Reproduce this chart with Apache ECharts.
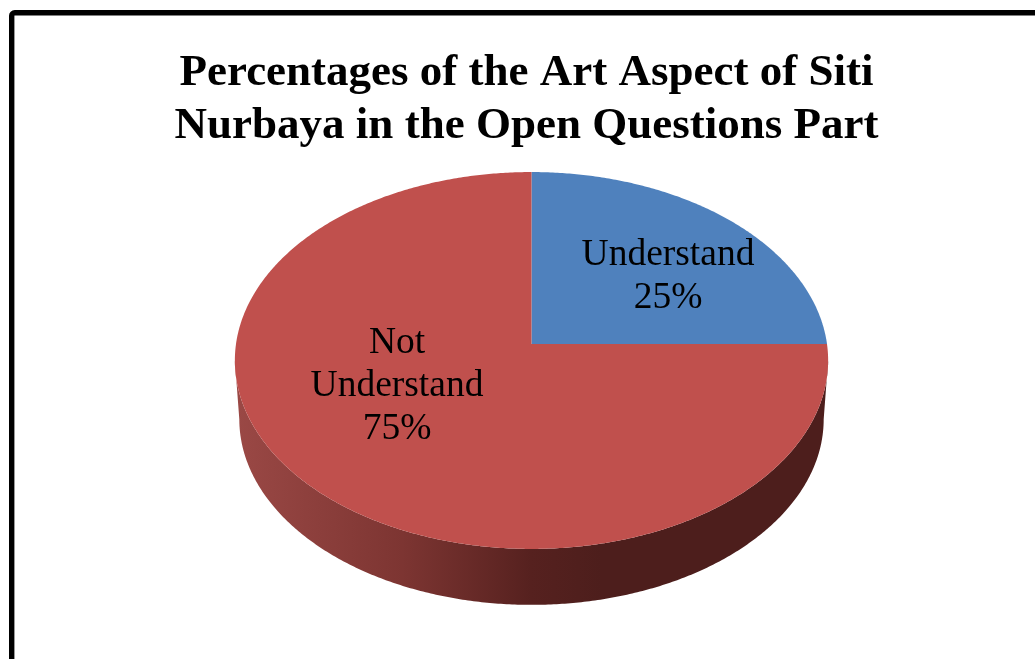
<!DOCTYPE html>
<html>
<head>
<meta charset="utf-8">
<style>html,body{margin:0;padding:0;background:#fff;overflow:hidden}#chart{width:1035px;height:659px}</style>
<script src="https://cdn.jsdelivr.net/npm/echarts@6/dist/echarts.min.js"></script>
</head>
<body>
<div id="chart"></div>
<script>
// Chart content
const titleLines = ['Percentages of the Art Aspect of Siti', 'Nurbaya in the Open Questions Part'];
const categories = ['Understand', 'Not Understand'];
const labelLines = [['Understand', '25%'], ['Not', 'Understand', '75%']];
const percentages = [25, 75];
const sliceColors = ['#4f81bd', '#c0504d'];

// Pie seen from above: the disc is tilted, so its near half looks larger than its far half
const pie = {cx: 531.5, cy: 344, rx: 295.5, ry: 187, tilt: 0.0875, depth: 59, baseScale: 0.985};
const labelOffsets = [[136.5, -67], [-134.5, 42]];
const total = percentages.reduce((a, b) => a + b, 0);

// Angle is measured clockwise from 12 o'clock, in degrees
function project(deg, scale, drop) {
  const t = deg * Math.PI / 180, u = Math.sin(t), v = Math.cos(t), w = 1 + pie.tilt * v;
  return [pie.cx + scale * pie.rx * u / w, pie.cy + drop - scale * pie.ry * v / w];
}
function arc(from, to, scale, drop) {
  const pts = [], steps = Math.max(2, Math.ceil(Math.abs(to - from) * 2));
  for (let i = 0; i <= steps; i++) pts.push(project(from + (to - from) * i / steps, scale, drop));
  return pts;
}

const wallFill = new echarts.graphic.LinearGradient(238, 0, 824, 0, [
  {offset: 0, color: '#9a4845'},
  {offset: 0.28, color: '#7d3532'},
  {offset: 0.5, color: '#56211f'},
  {offset: 0.62, color: '#4d1e1c'},
  {offset: 1, color: '#4d1e1c'}
], true);

function renderSlice(params, api) {
  const i = params.dataIndex;
  let before = 0;
  for (let k = 0; k < i; k++) before += percentages[k];
  const from = before / total * 360, to = (before + api.value(0)) / total * 360;
  const children = [];

  // Outer wall: only the front of the rim, between the two silhouette points
  const a = Math.max(from, 95), b = Math.min(to, 265);
  if (b > a) {
    const wall = arc(a, b, 1, 0).concat(arc(b, a, pie.baseScale, pie.depth));
    children.push({type: 'polygon', shape: {points: wall}, style: {fill: wallFill}});
  }
  children.push({
    type: 'polygon',
    shape: {points: [[pie.cx, pie.cy]].concat(arc(from, to, 1, 0))},
    style: {fill: sliceColors[i]}
  });
  children.push({
    type: 'text',
    z2: 10,
    style: {
      x: pie.cx + labelOffsets[i][0], y: pie.cy + labelOffsets[i][1],
      text: labelLines[i].join('\n'),
      font: '37.5px "Liberation Serif", "Times New Roman", serif',
      lineHeight: 43, fill: '#000', align: 'center', verticalAlign: 'middle'
    }
  });
  return {type: 'group', children};
}

const chart = echarts.init(document.getElementById('chart'), null, {renderer: 'canvas'});
chart.setOption({
  animation: false,
  backgroundColor: '#fff',
  title: {
    text: titleLines.join('\n'),
    left: 521.5, top: 42, textAlign: 'center',
    textStyle: {fontFamily: '"Liberation Serif", "Times New Roman", serif', fontWeight: 'bold', fontSize: 45, lineHeight: 53, color: '#000'}
  },
  graphic: [{
    type: 'rect', silent: true,
    shape: {x: 11.7, y: 12.7, width: 1300, height: 1000, r: 3},
    style: {fill: 'none', stroke: '#000', lineWidth: 5.4}
  }],
  series: [{
    type: 'custom',
    coordinateSystem: 'none',
    renderItem: renderSlice,
    data: percentages.map((v, i) => ({name: categories[i], value: [v]}))
  }]
});
</script>
</body>
</html>
